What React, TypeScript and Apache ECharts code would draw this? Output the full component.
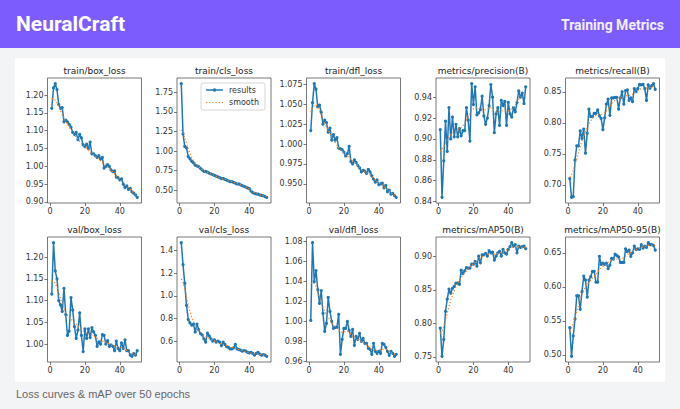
import React, { useEffect, useRef } from 'react';
import * as echarts from 'echarts';

const EPOCHS = Array.from({ length: 50 }, (_, i) => i + 1);
const X_TICKS = [0, 20, 40];

const TITLES = [
  'train/box_loss', 'train/cls_loss', 'train/dfl_loss', 'metrics/precision(B)', 'metrics/recall(B)',
  'val/box_loss', 'val/cls_loss', 'val/dfl_loss', 'metrics/mAP50(B)', 'metrics/mAP50-95(B)',
];
const LEGEND_NAMES = ['results', 'smooth'];

const trainBoxLoss = [1.163, 1.220, 1.232, 1.215, 1.173, 1.163, 1.165, 1.125, 1.130, 1.125,
  1.118, 1.110, 1.095, 1.090, 1.095, 1.075, 1.090, 1.080, 1.060, 1.055,
  1.062, 1.050, 1.068, 1.035, 1.035, 1.030, 1.025, 1.030, 1.020, 1.025,
  0.995, 1.000, 1.005, 1.000, 0.990, 0.985, 0.987, 0.970, 0.968, 0.962,
  0.965, 0.950, 0.940, 0.945, 0.935, 0.938, 0.928, 0.925, 0.920, 0.913];
const trainBoxLossSmooth = [1.190, 1.190, 1.185, 1.178, 1.168, 1.157, 1.146, 1.136, 1.127, 1.118,
  1.110, 1.102, 1.095, 1.088, 1.082, 1.076, 1.070, 1.065, 1.060, 1.055,
  1.050, 1.046, 1.041, 1.037, 1.033, 1.029, 1.025, 1.020, 1.016, 1.011,
  1.006, 1.002, 0.998, 0.994, 0.989, 0.984, 0.979, 0.974, 0.969, 0.964,
  0.959, 0.954, 0.949, 0.944, 0.940, 0.935, 0.930, 0.926, 0.922, 0.919];

const trainClsLoss = [1.86, 1.22, 1.06, 1.04, 0.93, 0.90, 0.87, 0.85, 0.82, 0.81,
  0.80, 0.78, 0.76, 0.74, 0.74, 0.73, 0.72, 0.71, 0.70, 0.69,
  0.68, 0.67, 0.66, 0.65, 0.65, 0.64, 0.63, 0.62, 0.61, 0.61,
  0.60, 0.59, 0.58, 0.58, 0.57, 0.56, 0.55, 0.54, 0.53, 0.52,
  0.49, 0.47, 0.46, 0.455, 0.45, 0.44, 0.435, 0.43, 0.42, 0.41];
const trainClsLossSmooth = [1.27, 1.24, 1.17, 1.10, 1.03, 0.97, 0.92, 0.88, 0.85, 0.82,
  0.80, 0.78, 0.765, 0.75, 0.74, 0.73, 0.72, 0.71, 0.70, 0.69,
  0.68, 0.67, 0.66, 0.65, 0.645, 0.64, 0.63, 0.62, 0.615, 0.61,
  0.60, 0.59, 0.585, 0.58, 0.57, 0.56, 0.55, 0.54, 0.53, 0.515,
  0.50, 0.485, 0.47, 0.46, 0.45, 0.445, 0.44, 0.43, 0.425, 0.42];

const trainDflLoss = [1.017, 1.052, 1.076, 1.069, 1.047, 1.049, 1.040, 1.025, 1.030, 1.027,
  1.015, 1.020, 1.005, 1.012, 1.005, 1.008, 0.995, 0.994, 0.993, 0.990,
  0.985, 0.988, 0.997, 0.978, 0.975, 0.980, 0.977, 0.973, 0.970, 0.965,
  0.967, 0.966, 0.963, 0.968, 0.965, 0.960, 0.956, 0.952, 0.955, 0.949,
  0.950, 0.951, 0.945, 0.948, 0.940, 0.942, 0.937, 0.938, 0.935, 0.933];
const trainDflLossSmooth = [1.040, 1.045, 1.049, 1.049, 1.046, 1.042, 1.037, 1.032, 1.027, 1.022,
  1.017, 1.013, 1.009, 1.005, 1.002, 0.999, 0.996, 0.993, 0.991, 0.989,
  0.987, 0.985, 0.983, 0.981, 0.979, 0.977, 0.975, 0.972, 0.970, 0.968,
  0.966, 0.965, 0.964, 0.963, 0.961, 0.959, 0.957, 0.955, 0.953, 0.951,
  0.950, 0.948, 0.946, 0.945, 0.943, 0.941, 0.939, 0.937, 0.936, 0.935];

const precision = [0.909, 0.844, 0.879, 0.917, 0.888, 0.930, 0.900, 0.921, 0.902, 0.914,
  0.902, 0.910, 0.903, 0.908, 0.908, 0.930, 0.918, 0.898, 0.953, 0.933,
  0.950, 0.923, 0.925, 0.928, 0.941, 0.922, 0.914, 0.920, 0.932, 0.952,
  0.940, 0.906, 0.924, 0.930, 0.913, 0.937, 0.932, 0.936, 0.913, 0.935,
  0.924, 0.921, 0.930, 0.926, 0.935, 0.946, 0.940, 0.944, 0.934, 0.950];
const precisionSmooth = [0.888, 0.890, 0.893, 0.896, 0.899, 0.902, 0.904, 0.906, 0.907, 0.908,
  0.909, 0.910, 0.911, 0.913, 0.915, 0.918, 0.921, 0.924, 0.927, 0.929,
  0.930, 0.930, 0.930, 0.929, 0.928, 0.928, 0.928, 0.929, 0.930, 0.930,
  0.929, 0.927, 0.926, 0.926, 0.926, 0.927, 0.927, 0.927, 0.927, 0.927,
  0.928, 0.929, 0.931, 0.933, 0.936, 0.938, 0.940, 0.941, 0.942, 0.943];

const recall = [0.710, 0.680, 0.681, 0.740, 0.763, 0.763, 0.787, 0.775, 0.790, 0.751,
  0.783, 0.822, 0.810, 0.810, 0.815, 0.815, 0.821, 0.811, 0.807, 0.789,
  0.808, 0.830, 0.838, 0.812, 0.840, 0.840, 0.841, 0.841, 0.822, 0.840,
  0.850, 0.830, 0.852, 0.853, 0.836, 0.840, 0.834, 0.855, 0.850, 0.855,
  0.862, 0.861, 0.862, 0.855, 0.836, 0.861, 0.856, 0.860, 0.863, 0.854];
const recallSmooth = [0.712, 0.716, 0.723, 0.732, 0.742, 0.752, 0.762, 0.771, 0.779, 0.786,
  0.792, 0.798, 0.803, 0.807, 0.810, 0.812, 0.813, 0.813, 0.813, 0.814,
  0.816, 0.819, 0.823, 0.827, 0.831, 0.834, 0.836, 0.838, 0.839, 0.840,
  0.841, 0.842, 0.843, 0.844, 0.844, 0.845, 0.846, 0.848, 0.850, 0.852,
  0.854, 0.855, 0.856, 0.856, 0.856, 0.857, 0.857, 0.858, 0.858, 0.858];

const valBoxLoss = [1.115, 1.233, 1.168, 1.150, 1.100, 1.090, 1.075, 1.128, 1.068, 1.020,
  1.030, 1.107, 1.078, 1.040, 1.013, 1.032, 1.072, 1.020, 0.983, 1.035,
  1.013, 1.035, 1.015, 1.038, 1.028, 1.020, 0.995, 1.005, 1.000, 1.022,
  1.020, 1.000, 1.008, 0.995, 0.998, 0.995, 0.985, 1.007, 0.990, 0.985,
  1.003, 0.990, 1.010, 0.985, 0.985, 0.975, 0.972, 0.978, 0.975, 0.985];
const valBoxLossSmooth = [1.145, 1.145, 1.140, 1.130, 1.118, 1.105, 1.093, 1.082, 1.073, 1.066,
  1.061, 1.057, 1.054, 1.050, 1.046, 1.042, 1.038, 1.034, 1.030, 1.027,
  1.025, 1.024, 1.023, 1.021, 1.019, 1.016, 1.013, 1.010, 1.008, 1.007,
  1.006, 1.005, 1.003, 1.000, 0.998, 0.997, 0.996, 0.995, 0.994, 0.993,
  0.992, 0.991, 0.989, 0.986, 0.983, 0.980, 0.978, 0.977, 0.977, 0.978];

const valClsLoss = [1.470, 1.275, 1.110, 0.915, 0.790, 0.760, 0.740, 0.750, 0.680, 0.750,
  0.700, 0.665, 0.655, 0.620, 0.590, 0.670, 0.645, 0.620, 0.600, 0.610,
  0.590, 0.600, 0.590, 0.560, 0.590, 0.570, 0.550, 0.545, 0.530, 0.530,
  0.540, 0.570, 0.530, 0.525, 0.520, 0.510, 0.515, 0.510, 0.500, 0.495,
  0.500, 0.490, 0.475, 0.490, 0.500, 0.485, 0.475, 0.480, 0.475, 0.465];
const valClsLossSmooth = [1.150, 1.120, 1.060, 0.990, 0.920, 0.860, 0.810, 0.770, 0.740, 0.720,
  0.700, 0.680, 0.665, 0.650, 0.640, 0.630, 0.625, 0.615, 0.605, 0.600,
  0.590, 0.585, 0.580, 0.575, 0.570, 0.565, 0.560, 0.555, 0.550, 0.545,
  0.540, 0.535, 0.530, 0.525, 0.520, 0.515, 0.510, 0.505, 0.500, 0.497,
  0.494, 0.490, 0.488, 0.486, 0.484, 0.482, 0.479, 0.476, 0.474, 0.472];

const valDflLoss = [1.001, 1.079, 1.040, 1.051, 1.032, 1.018, 1.031, 1.008, 0.990, 0.998,
  1.024, 1.010, 1.000, 0.993, 0.994, 0.994, 1.007, 0.967, 0.982, 0.993,
  0.993, 1.000, 0.991, 0.985, 0.992, 0.976, 0.985, 0.982, 0.988, 0.980,
  0.983, 0.978, 0.978, 0.973, 0.972, 0.967, 0.978, 0.970, 0.968, 0.970,
  0.968, 0.978, 0.977, 0.974, 0.970, 0.966, 0.970, 0.968, 0.965, 0.967];
const valDflLossSmooth = [1.038, 1.039, 1.038, 1.035, 1.030, 1.025, 1.019, 1.014, 1.010, 1.007,
  1.004, 1.001, 0.999, 0.997, 0.995, 0.993, 0.991, 0.990, 0.989, 0.989,
  0.990, 0.990, 0.989, 0.987, 0.985, 0.984, 0.983, 0.982, 0.981, 0.980,
  0.979, 0.978, 0.976, 0.975, 0.973, 0.972, 0.971, 0.971, 0.971, 0.971,
  0.972, 0.972, 0.972, 0.972, 0.971, 0.970, 0.969, 0.968, 0.967, 0.967];

const map50 = [0.793, 0.751, 0.776, 0.818, 0.836, 0.851, 0.845, 0.852, 0.855, 0.860,
  0.860, 0.858, 0.879, 0.874, 0.878, 0.883, 0.882, 0.882, 0.888, 0.888,
  0.892, 0.885, 0.900, 0.890, 0.902, 0.902, 0.904, 0.900, 0.908, 0.905,
  0.906, 0.894, 0.900, 0.905, 0.907, 0.900, 0.910, 0.905, 0.903, 0.910,
  0.914, 0.920, 0.915, 0.917, 0.905, 0.915, 0.913, 0.914, 0.915, 0.911];
const map50Smooth = [0.785, 0.789, 0.796, 0.805, 0.815, 0.825, 0.834, 0.842, 0.849, 0.855,
  0.860, 0.864, 0.868, 0.872, 0.875, 0.878, 0.881, 0.884, 0.886, 0.889,
  0.891, 0.893, 0.895, 0.897, 0.899, 0.900, 0.902, 0.903, 0.903, 0.903,
  0.903, 0.903, 0.903, 0.904, 0.905, 0.906, 0.907, 0.908, 0.909, 0.911,
  0.912, 0.913, 0.914, 0.914, 0.914, 0.914, 0.914, 0.913, 0.913, 0.913];

const map5095 = [0.540, 0.498, 0.528, 0.553, 0.587, 0.587, 0.567, 0.593, 0.616, 0.610,
  0.585, 0.610, 0.615, 0.623, 0.623, 0.607, 0.607, 0.645, 0.633, 0.635,
  0.633, 0.635, 0.627, 0.632, 0.642, 0.641, 0.648, 0.646, 0.644, 0.636,
  0.636, 0.636, 0.656, 0.652, 0.654, 0.645, 0.650, 0.660, 0.655, 0.656,
  0.655, 0.662, 0.657, 0.660, 0.658, 0.665, 0.662, 0.662, 0.661, 0.654];
const map5095Smooth = [0.535, 0.539, 0.546, 0.555, 0.564, 0.573, 0.582, 0.589, 0.595, 0.600,
  0.604, 0.607, 0.610, 0.613, 0.616, 0.619, 0.622, 0.625, 0.628, 0.630,
  0.632, 0.634, 0.636, 0.638, 0.639, 0.640, 0.641, 0.641, 0.641, 0.641,
  0.642, 0.643, 0.645, 0.647, 0.649, 0.651, 0.652, 0.654, 0.655, 0.656,
  0.657, 0.658, 0.659, 0.660, 0.660, 0.661, 0.661, 0.661, 0.661, 0.661];

const RESULTS = [trainBoxLoss, trainClsLoss, trainDflLoss, precision, recall,
  valBoxLoss, valClsLoss, valDflLoss, map50, map5095];
const SMOOTH = [trainBoxLossSmooth, trainClsLossSmooth, trainDflLossSmooth, precisionSmooth, recallSmooth,
  valBoxLossSmooth, valClsLossSmooth, valDflLossSmooth, map50Smooth, map5095Smooth];

const Y_TICKS = [
  [0.90, 0.95, 1.00, 1.05, 1.10, 1.15, 1.20],
  [0.50, 0.75, 1.00, 1.25, 1.50, 1.75],
  [0.950, 0.975, 1.000, 1.025, 1.050, 1.075],
  [0.84, 0.86, 0.88, 0.90, 0.92, 0.94],
  [0.70, 0.75, 0.80, 0.85],
  [1.00, 1.05, 1.10, 1.15, 1.20],
  [0.6, 0.8, 1.0, 1.2, 1.4],
  [0.96, 0.98, 1.00, 1.02, 1.04, 1.06, 1.08],
  [0.75, 0.80, 0.85, 0.90],
  [0.50, 0.55, 0.60, 0.65],
];
const Y_DECIMALS = [2, 2, 3, 2, 2, 2, 1, 2, 2, 2];

const COL_LEFT = [47.5, 177, 306.5, 436, 565.5];
const ROW_TOP = [78, 237];
const BOX_W = 94;
const BOX_H = 125;
const MPL_FONT = 'DejaVu Sans';
const BLUE = '#1f77b4';
const ORANGE = '#ff7f0e';

export default function App() {
  const ref = useRef<HTMLDivElement>(null);
  useEffect(() => {
    document.body.style.margin = '0';
    const chart = echarts.init(ref.current!, null, { renderer: 'svg' });
    const grids: any[] = [];
    const xAxes: any[] = [];
    const yAxes: any[] = [];
    const series: any[] = [];
    const graphics: any[] = [
      { type: 'rect', shape: { x: 0, y: 0, width: 680, height: 409 }, style: { fill: '#f3f4f6' }, z: -10 },
      { type: 'rect', shape: { x: 0, y: 0, width: 680, height: 48 }, style: { fill: '#7c5cfc' }, z: -9 },
      { type: 'rect', shape: { x: 15, y: 58, width: 650, height: 324 }, style: { fill: '#ffffff' }, z: -9 },
      { type: 'text', x: 16, y: 24, style: { text: 'NeuralCraft', fill: '#ffffff', font: 'bold 21px Roboto', verticalAlign: 'middle' } },
      { type: 'text', x: 664, y: 25, style: { text: 'Training Metrics', fill: '#f2eeff', font: 'bold 14px Roboto', align: 'right', verticalAlign: 'middle' } },
      { type: 'text', x: 16, y: 394, style: { text: 'Loss curves & mAP over 50 epochs', fill: '#666666', font: '11px "Liberation Sans"', verticalAlign: 'middle' } },
    ];
    // legend box inside train/cls_loss panel (upper right)
    const lgX = 201;
    const lgY = 83;
    graphics.push(
      { type: 'rect', z: 20, shape: { x: lgX, y: lgY, width: 64, height: 27, r: 2 }, style: { fill: '#ffffff', stroke: '#cccccc', lineWidth: 0.8 } },
      { type: 'line', z: 21, shape: { x1: lgX + 5, y1: lgY + 7, x2: lgX + 22, y2: lgY + 7 }, style: { stroke: BLUE, lineWidth: 1.5 } },
      { type: 'circle', z: 22, shape: { cx: lgX + 13.5, cy: lgY + 7, r: 1.7 }, style: { fill: BLUE } },
      { type: 'text', z: 21, x: lgX + 28, y: lgY + 7, style: { text: LEGEND_NAMES[0], fill: '#333', font: `8px "${MPL_FONT}"`, verticalAlign: 'middle' } },
      { type: 'line', z: 21, shape: { x1: lgX + 5, y1: lgY + 19.5, x2: lgX + 22, y2: lgY + 19.5 }, style: { stroke: ORANGE, lineWidth: 1.2, lineDash: [1.2, 2] } },
      { type: 'text', z: 21, x: lgX + 28, y: lgY + 19.5, style: { text: LEGEND_NAMES[1], fill: '#333', font: `8px "${MPL_FONT}"`, verticalAlign: 'middle' } },
    );
    for (let i = 0; i < 10; i++) {
      const res = RESULTS[i];
      const sm = SMOOTH[i];
      const all = res.concat(sm);
      const lo = Math.min(...all);
      const hi = Math.max(...all);
      const pad = (hi - lo) * 0.05;
      const col = i % 5;
      const row = Math.floor(i / 5);
      const left = COL_LEFT[col];
      const top = ROW_TOP[row];
      grids.push({ left, top, width: BOX_W, height: BOX_H, show: true, borderColor: '#555', borderWidth: 0.8, backgroundColor: 'transparent', containLabel: false });
      xAxes.push({
        type: 'value', gridIndex: i, min: -1.45, max: 52.45,
        axisLine: { show: false, onZero: false },
        axisTick: { show: true, length: 3, customValues: X_TICKS, lineStyle: { color: '#555', width: 0.8 } },
        axisLabel: { customValues: X_TICKS, fontFamily: MPL_FONT, fontSize: 8, color: '#333', margin: 4 },
        splitLine: { show: false },
      });
      const dec = Y_DECIMALS[i];
      yAxes.push({
        type: 'value', gridIndex: i, min: lo - pad, max: hi + pad,
        axisLine: { show: false, onZero: false },
        axisTick: { show: true, length: 3, customValues: Y_TICKS[i], lineStyle: { color: '#555', width: 0.8 } },
        axisLabel: { customValues: Y_TICKS[i], fontFamily: MPL_FONT, fontSize: 8, color: '#333', margin: 4, formatter: (v: number) => v.toFixed(dec) },
        splitLine: { show: false },
      });
      series.push({
        name: LEGEND_NAMES[0], type: 'line', xAxisIndex: i, yAxisIndex: i,
        data: EPOCHS.map((e, k) => [e, res[k]]),
        symbol: 'circle', symbolSize: 3.2, showSymbol: true,
        itemStyle: { color: BLUE }, lineStyle: { color: BLUE, width: 1.5 },
        emphasis: { disabled: true }, z: 2,
      });
      series.push({
        name: LEGEND_NAMES[1], type: 'line', xAxisIndex: i, yAxisIndex: i,
        data: EPOCHS.map((e, k) => [e, sm[k]]),
        symbol: 'none', showSymbol: false,
        itemStyle: { color: ORANGE }, lineStyle: { color: ORANGE, width: 1.2, type: [1.2, 2] },
        emphasis: { disabled: true }, z: 3,
      });
      graphics.push({
        type: 'text', x: left + BOX_W / 2, y: top - 7,
        style: { text: TITLES[i], fill: '#222', font: `9px "${MPL_FONT}"`, align: 'center', verticalAlign: 'middle' },
      });
    }
    chart.setOption({
      animation: false,
      grid: grids,
      xAxis: xAxes,
      yAxis: yAxes,
      series,
      graphic: graphics,
    });
    return () => chart.dispose();
  }, []);
  return <div ref={ref} style={{ width: 680, height: 409 }} />;
}
